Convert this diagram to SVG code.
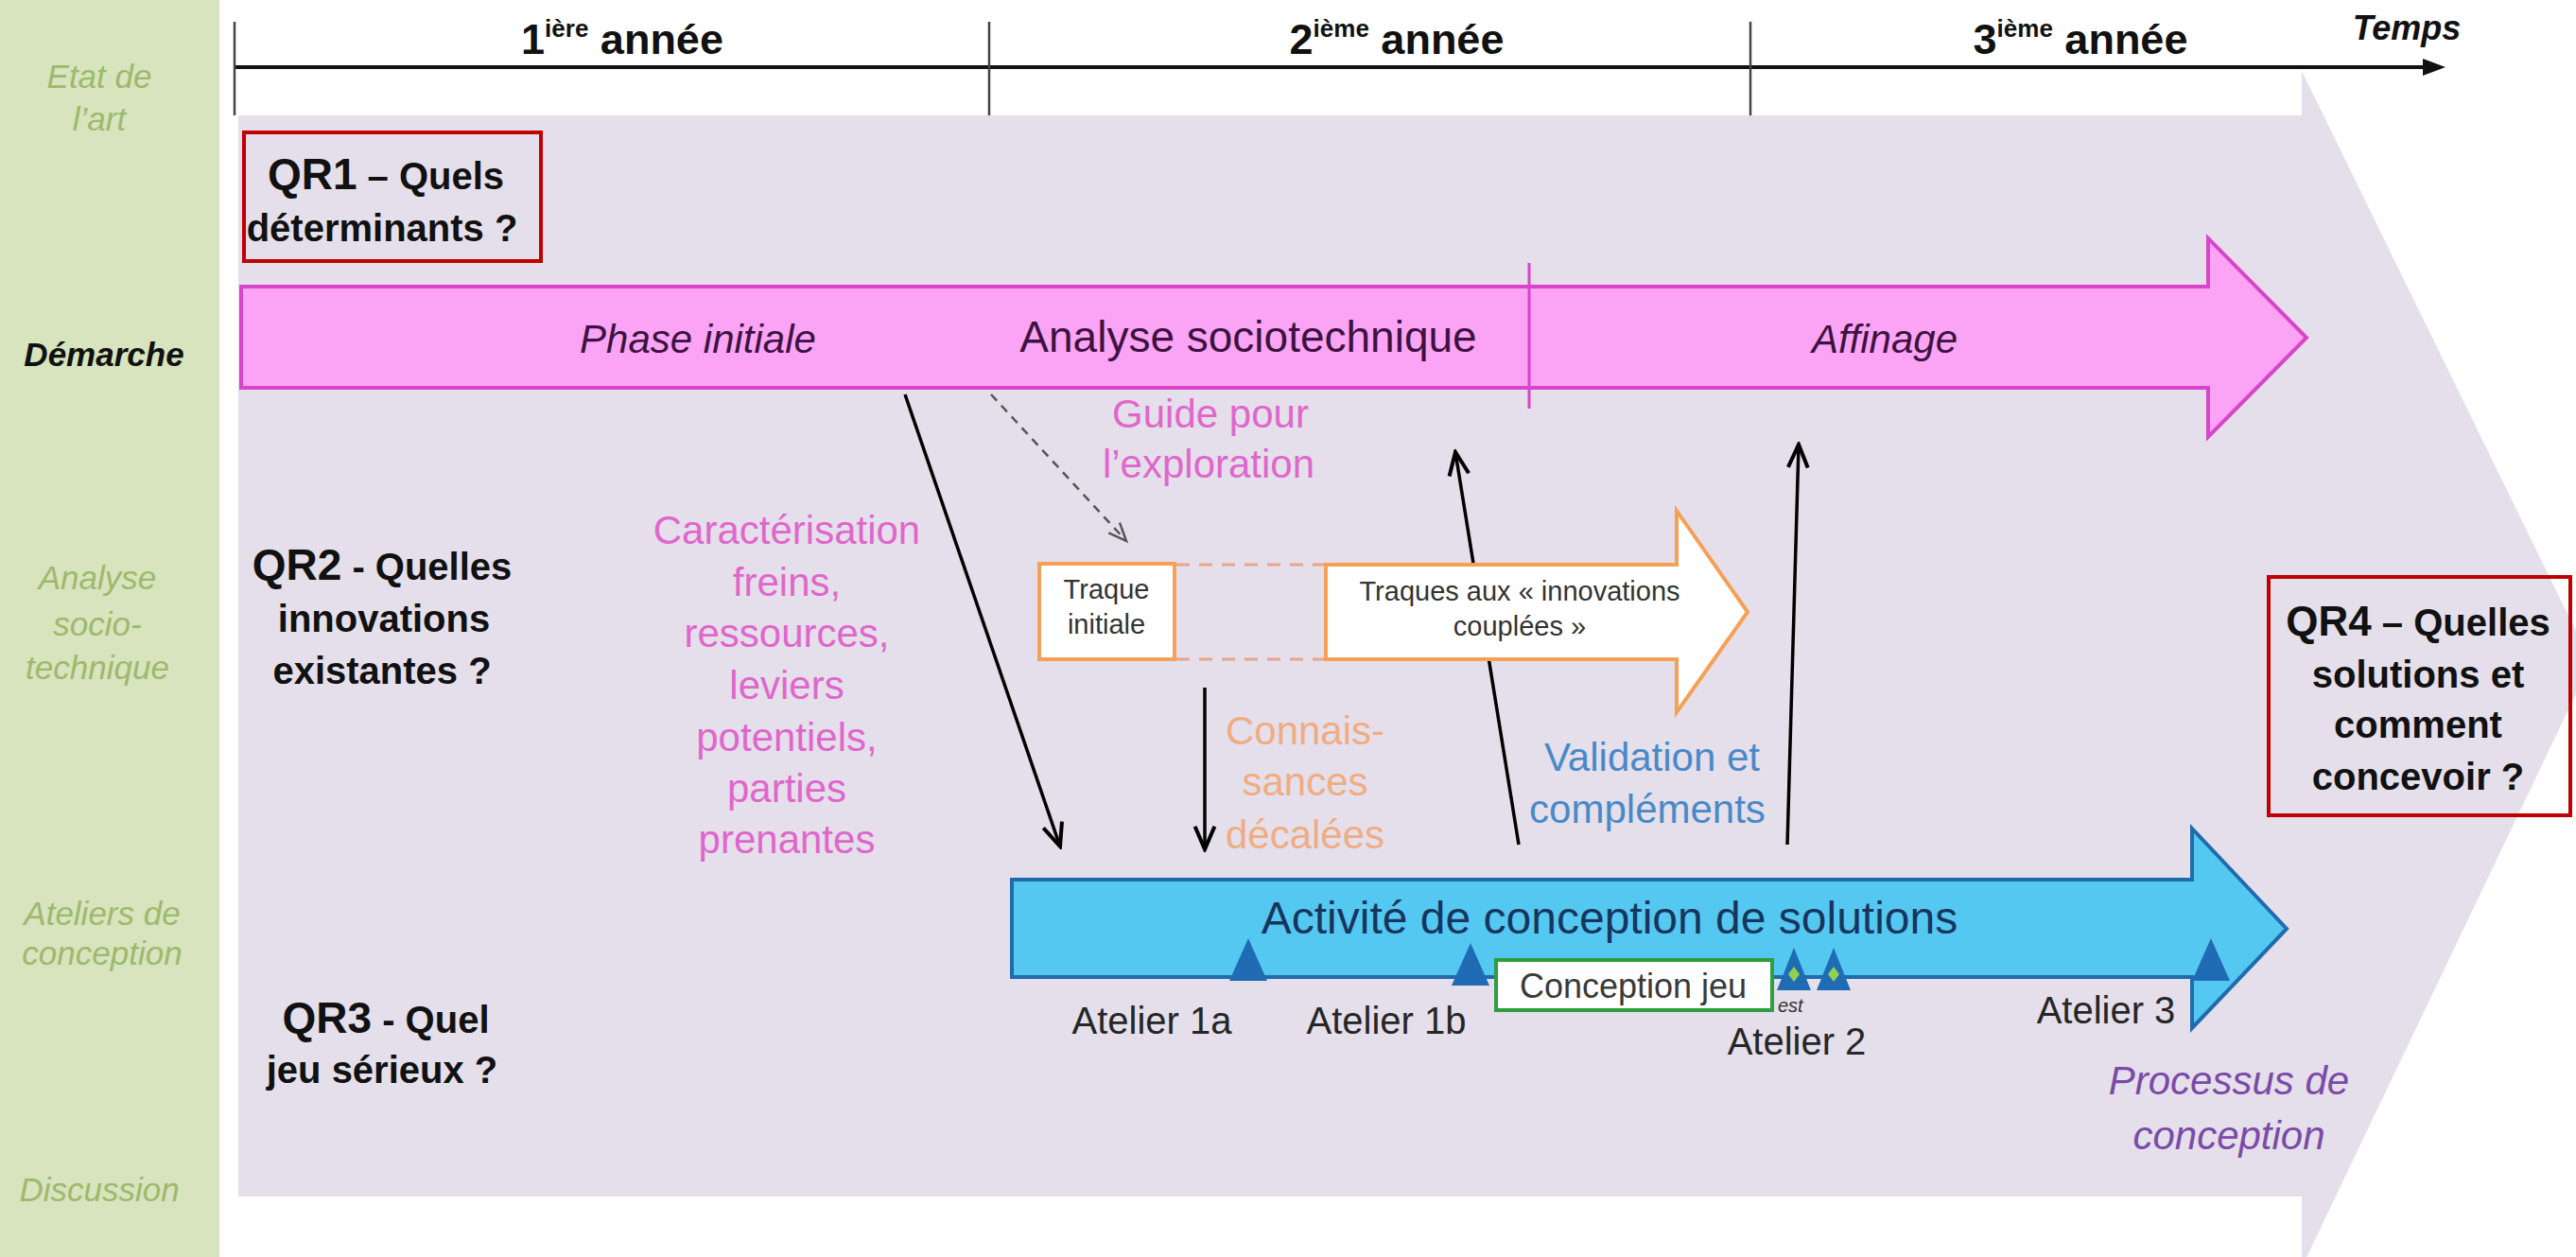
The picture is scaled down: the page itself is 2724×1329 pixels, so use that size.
<svg xmlns="http://www.w3.org/2000/svg" width="2724" height="1329" viewBox="0 0 2724 1329">
<style>
text{font-family:"Liberation Sans",Arial,sans-serif}
.side{font-size:35px;font-style:italic;fill:#9DB96C;text-anchor:middle}
.yr{font-size:45px;font-weight:bold;fill:#111;text-anchor:middle}
.qr{font-size:40px;font-weight:bold;fill:#111;text-anchor:middle}
.pk{font-size:42px;fill:#E066CC;text-anchor:middle}
.or{font-size:42px;fill:#F0AC82;text-anchor:middle}
.bl{font-size:42px;fill:#4A89C8;text-anchor:middle}
.ph{font-size:42px;font-style:italic;fill:#3E1240;text-anchor:middle}
.at{font-size:40px;fill:#262626;text-anchor:middle}
.sm{font-size:29px;fill:#333;text-anchor:middle}
.redbox{fill:none;stroke:#C00000;stroke-width:4}
.tri{fill:#1F6CB5}
.conn{stroke:#000;stroke-width:3.5;fill:none;marker-end:url(#openV)}
</style>
<defs>
<marker id="openV" markerUnits="userSpaceOnUse" markerWidth="30" markerHeight="26" viewBox="0 0 26 22" refX="23" refY="11" orient="auto">
<path d="M2,2 L23,11 L2,20" fill="none" stroke="#000" stroke-width="3.5"/>
</marker>
<marker id="openVd" markerUnits="userSpaceOnUse" markerWidth="24" markerHeight="22" viewBox="0 0 24 22" refX="21" refY="11" orient="auto">
<path d="M2,3 L21,11 L2,19" fill="none" stroke="#555" stroke-width="2.5"/>
</marker>
</defs>

<rect x="0" y="0" width="2724" height="1329" fill="#fff"/>

<g id="side-band">
<rect x="0" y="0" width="232" height="1329" fill="#D7E4BD"/>
<text class="side" x="105" y="93">Etat de</text>
<text class="side" x="105" y="138">l’art</text>
<text x="110" y="387" font-size="35" font-weight="bold" font-style="italic" fill="#111" text-anchor="middle">Démarche</text>
<text class="side" x="103" y="623">Analyse</text>
<text class="side" x="103" y="672">socio-</text>
<text class="side" x="103" y="718">technique</text>
<text class="side" x="108" y="978">Ateliers de</text>
<text class="side" x="108" y="1020">conception</text>
<text class="side" x="105" y="1270">Discussion</text>
</g>

<g id="process-background">
<rect x="252" y="122" width="2182" height="1143" fill="#E4DFEA"/>
<polygon points="2434,75 2740,700 2434,1340" fill="#E4DFEA"/>
</g>

<g id="timeline">
<line x1="248" y1="71" x2="2566" y2="71" stroke="#111" stroke-width="4"/>
<polygon points="2562,62 2586,71 2562,80" fill="#111"/>
<line x1="248" y1="23" x2="248" y2="122" stroke="#444" stroke-width="2.5"/>
<line x1="1046" y1="23" x2="1046" y2="122" stroke="#444" stroke-width="2.5"/>
<line x1="1851" y1="23" x2="1851" y2="122" stroke="#444" stroke-width="2.5"/>
<text class="yr" x="658" y="57">1<tspan font-size="26" dy="-18">ière</tspan><tspan dy="18"> année</tspan></text>
<text class="yr" x="1477" y="57">2<tspan font-size="26" dy="-18">ième</tspan><tspan dy="18"> année</tspan></text>
<text class="yr" x="2200" y="57">3<tspan font-size="26" dy="-18">ième</tspan><tspan dy="18"> année</tspan></text>
<text x="2545" y="42" font-size="36" font-weight="bold" font-style="italic" fill="#111" text-anchor="middle">Temps</text>
</g>

<g id="qr1">
<rect class="redbox" x="258" y="140" width="314" height="136"/>
<text class="qr" x="408" y="200"><tspan font-size="46">QR1</tspan> – Quels</text>
<text class="qr" x="404" y="255">déterminants ?</text>
</g>

<g id="demarche-arrow">
<polygon points="255,303 2335,303 2335,252 2439,357 2335,462 2335,410 255,410" fill="#FBA4F6" stroke="#D944C9" stroke-width="4"/>
<line x1="1617" y1="278" x2="1617" y2="432" stroke="#D944C9" stroke-width="3"/>
<text class="ph" x="738" y="373">Phase initiale</text>
<text x="1320" y="372" font-size="46" fill="#3E1240" text-anchor="middle">Analyse sociotechnique</text>
<text class="ph" x="1993" y="373">Affinage</text>
</g>

<g id="guide-label">
<text class="pk" x="1280" y="452">Guide pour</text>
<text class="pk" x="1278" y="505">l’exploration</text>
</g>

<g id="caracterisation-label">
<text class="pk" x="832" y="575">Caractérisation</text>
<text class="pk" x="832" y="630">freins,</text>
<text class="pk" x="832" y="684">ressources,</text>
<text class="pk" x="832" y="739">leviers</text>
<text class="pk" x="832" y="794">potentiels,</text>
<text class="pk" x="832" y="848">parties</text>
<text class="pk" x="832" y="902">prenantes</text>
</g>

<g id="qr2">
<text class="qr" x="404" y="613"><tspan font-size="46">QR2</tspan> - Quelles</text>
<text class="qr" x="406" y="668">innovations</text>
<text class="qr" x="404" y="723">existantes ?</text>
</g>

<g id="connectors">
<line class="conn" x1="957" y1="417" x2="1121" y2="895"/>
<line class="conn" x1="1274" y1="727" x2="1274" y2="898"/>
<line class="conn" x1="1606" y1="893" x2="1539" y2="478"/>
<line class="conn" x1="1890" y1="893" x2="1902" y2="470"/>
<line x1="1048" y1="417" x2="1191" y2="572" stroke="#555" stroke-width="2.5" stroke-dasharray="9 7" marker-end="url(#openVd)"/>
</g>

<g id="traque-initiale">
<rect x="1099" y="596" width="143" height="101" fill="#fff" stroke="#F4A055" stroke-width="4"/>
<text class="sm" x="1170" y="633">Traque</text>
<text class="sm" x="1170" y="670">initiale</text>
<line x1="1244" y1="597" x2="1402" y2="597" stroke="#E8A58A" stroke-width="3" stroke-dasharray="14 10"/>
<line x1="1244" y1="697" x2="1402" y2="697" stroke="#E8A58A" stroke-width="3" stroke-dasharray="14 10"/>
</g>

<g id="traques-couplees">
<polygon points="1402,597 1773,597 1773,540 1848,647 1773,753 1773,697 1402,697" fill="#fff" stroke="#F4A055" stroke-width="4"/>
<text class="sm" x="1607" y="635">Traques aux « innovations</text>
<text class="sm" x="1607" y="672">couplées »</text>
</g>

<g id="connaissances-label">
<text class="or" x="1380" y="787">Connais-</text>
<text class="or" x="1380" y="841">sances</text>
<text class="or" x="1380" y="897">décalées</text>
</g>

<g id="validation-label">
<text class="bl" x="1747" y="815">Validation et</text>
<text class="bl" x="1742" y="870">compléments</text>
</g>

<g id="qr4">
<rect class="redbox" x="2399" y="610" width="319" height="252"/>
<text class="qr" x="2557" y="672"><tspan font-size="44">QR4</tspan>  – Quelles</text>
<text class="qr" x="2557" y="727">solutions et</text>
<text class="qr" x="2557" y="780">comment</text>
<text class="qr" x="2557" y="835">concevoir ?</text>
</g>

<g id="conception-arrow">
<polygon points="1070,930 2318,930 2318,876 2418,982 2318,1087 2318,1033 1070,1033" fill="#55C8F2" stroke="#1F6BAE" stroke-width="4"/>
<text x="1702" y="987" font-size="48" fill="#17365D" text-anchor="middle">Activité de conception de solutions</text>
</g>

<g id="ateliers">
<polygon class="tri" points="1320,992 1340,1037 1300,1037"/>
<polygon class="tri" points="1555,997 1575,1042 1535,1042"/>
<polygon class="tri" points="1897,1002 1915,1047 1879,1047"/>
<polygon class="tri" points="1939,1002 1957,1047 1921,1047"/>
<polygon points="1897,1022 1903,1030 1897,1038 1891,1030" fill="#92D050"/>
<polygon points="1939,1022 1945,1030 1939,1038 1933,1030" fill="#92D050"/>
<polygon class="tri" points="2338,992 2358,1037 2318,1037"/>
<text class="at" x="1218" y="1093">Atelier 1a</text>
<text class="at" x="1466" y="1093">Atelier 1b</text>
<text class="at" x="1900" y="1115">Atelier 2</text>
<text class="at" x="2227" y="1082">Atelier 3</text>
<text x="1880" y="1070" font-size="20" font-style="italic" fill="#333">est</text>
</g>

<g id="conception-jeu">
<rect x="1582" y="1015" width="292" height="53" fill="#fff" stroke="#2E9E3E" stroke-width="4"/>
<text x="1727" y="1055" font-size="36" fill="#3A3A3A" text-anchor="middle">Conception jeu</text>
</g>

<g id="qr3">
<text class="qr" x="408" y="1092"><tspan font-size="46">QR3</tspan> - Quel</text>
<text class="qr" x="404" y="1145">jeu sérieux ?</text>
</g>

<g id="processus-label">
<text x="2357" y="1157" font-size="42" font-style="italic" fill="#7B4AA8" text-anchor="middle">Processus de</text>
<text x="2357" y="1215" font-size="42" font-style="italic" fill="#7B4AA8" text-anchor="middle">conception</text>
</g>
</svg>
